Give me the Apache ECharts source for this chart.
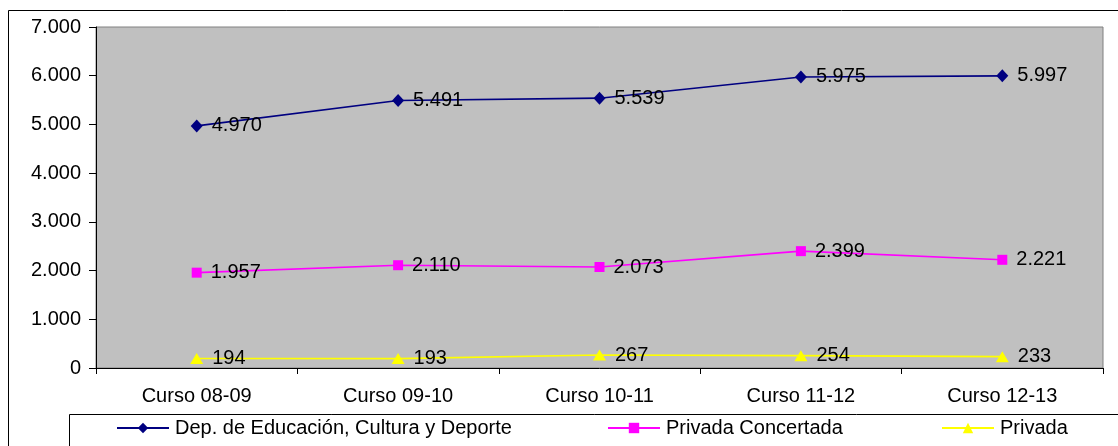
<!DOCTYPE html>
<html><head><meta charset="utf-8">
<script src="https://cdn.jsdelivr.net/npm/echarts@6/dist/echarts.min.js"></script>
<style>html,body{margin:0;padding:0;background:#fff}#c{width:1118px;height:446px}</style>
</head><body><div id="c"></div>
<script>
const categories = ['Curso 08-09','Curso 09-10','Curso 10-11','Curso 11-12','Curso 12-13'];
const depEducacion = [4970, 5491, 5539, 5975, 5997];
const privadaConcertada = [1957, 2110, 2073, 2399, 2221];
const privada = [194, 193, 267, 254, 233];
const seriesNames = ['Dep. de Educación, Cultura y Deporte','Privada Concertada','Privada'];

const FONT = '"Liberation Sans", Arial, sans-serif';
const FS = 20;
const fmt = v => String(v).replace(/\B(?=(\d{3})+(?!\d))/g, '.');

const chart = echarts.init(document.getElementById('c'));
function mkSeries(name, data, color, symbol, size) {
  return {
    name, type: 'line', data, symbol, symbolSize: size, showAllSymbol: true,
    lineStyle: {color, width: 1.6}, itemStyle: {color},
    label: {show: true, position: 'right', distance: 9, color: '#000', fontSize: FS, fontFamily: FONT,
      formatter: p => fmt(p.value)},
    emphasis: {disabled: true}, animation: false
  };
}
const legendCommon = {top: 418, padding: 0, itemWidth: 52, itemHeight: 13, itemGap: 0,
  textStyle: {fontSize: FS, fontFamily: FONT, color: '#000', padding: [0,0,0,1]}};
chart.setOption({
  animation: false,
  backgroundColor: '#fff',
  graphic: [
    {type: 'rect', shape: {x: 8.5, y: 10.5, width: 1200, height: 600}, style: {fill: 'none', stroke: '#000', lineWidth: 1}, silent: true, z: -1},
    {type: 'rect', shape: {x: 69.5, y: 414.5, width: 1100, height: 60}, style: {fill: 'none', stroke: '#000', lineWidth: 1}, silent: true, z: -1}
  ],
  grid: {left: 96, top: 27, right: 15, bottom: 78, show: true, backgroundColor: '#C0C0C0', borderColor: '#808080', borderWidth: 1},
  legend: [
    Object.assign({left: 116, data: [seriesNames[0]]}, legendCommon),
    Object.assign({left: 607, data: [seriesNames[1]]}, legendCommon),
    Object.assign({left: 941, data: [seriesNames[2]]}, legendCommon)
  ],
  xAxis: {
    type: 'category', data: categories, boundaryGap: true,
    axisLine: {lineStyle: {color: '#000', width: 1}},
    axisTick: {show: true, length: 6, alignWithLabel: false, lineStyle: {color: '#000'}},
    axisLabel: {fontSize: FS, fontFamily: FONT, color: '#000', margin: 18},
    splitLine: {show: false}
  },
  yAxis: {
    type: 'value', min: 0, max: 7000, interval: 1000,
    axisLine: {show: true, lineStyle: {color: '#000', width: 1}},
    axisTick: {show: true, length: 7, lineStyle: {color: '#000'}},
    axisLabel: {fontSize: FS, fontFamily: FONT, color: '#000', margin: 15, formatter: v => fmt(v)},
    splitLine: {show: false}
  },
  series: [
    mkSeries(seriesNames[0], depEducacion, '#000080', 'diamond', [12, 13]),
    mkSeries(seriesNames[1], privadaConcertada, '#FF00FF', 'rect', 10),
    mkSeries(seriesNames[2], privada, '#FFFF00', 'triangle', [13, 11])
  ]
});
</script></body></html>
